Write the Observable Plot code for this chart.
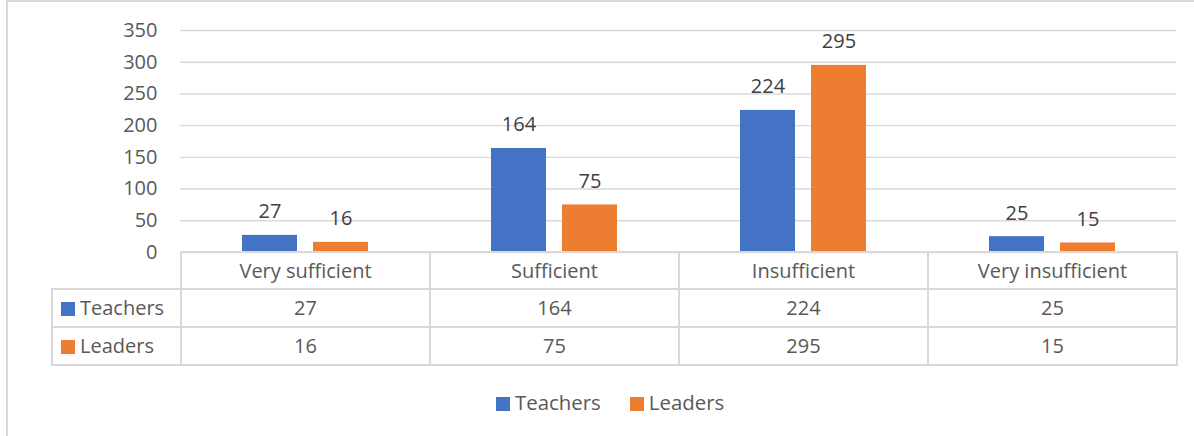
<!DOCTYPE html>
<html>
<head>
<meta charset="utf-8">
<script src="https://cdn.jsdelivr.net/npm/d3@7"></script>
<script src="https://cdn.jsdelivr.net/npm/@observablehq/plot@0.6"></script>
<style>
  html, body { margin: 0; padding: 0; background: #fff; }
  #wrap { position: relative; width: 1194px; height: 436px; overflow: hidden; font-family: "Open Sans", sans-serif; color: #595959; }
  #frame { position: absolute; left: 6px; top: 0px; width: 1300px; height: 600px; border: 2px solid #d9d9d9; box-sizing: border-box; }
  #chart { position: absolute; left: 0; top: 0; }
  #tbl { position: absolute; left: 51px; top: 251px; border-collapse: collapse; table-layout: fixed; font-size: 20px; color: #595959; }
  #tbl td { border: 2px solid #d9d9d9; text-align: center; padding: 0; white-space: nowrap; line-height: 1; }
  #tbl tr.h td { height: 35px; }
  #tbl tr.r td { height: 36px; }
  #tbl td.lab { text-align: left; padding-left: 8px; }
  #tbl td.corner { border-top: none; border-left: none; }
  .sw { display: inline-block; width: 14px; height: 14px; margin-right: 5px; vertical-align: -1px; }
  #legend { position: absolute; top: 389px; left: 496px; font-size: 20.4px; white-space: nowrap; line-height: 1.3; }
  #legend span.item { margin-right: 29px; }
</style>
</head>
<body>
<div id="wrap">
  <div id="frame"></div>
  <div id="chart"></div>
  <table id="tbl"></table>
  <div id="legend"></div>
</div>
<script>
const categories = ["Very sufficient", "Sufficient", "Insufficient", "Very insufficient"];
const series = ["Teachers", "Leaders"];
const teachers = [27, 164, 224, 25];
const leaders = [16, 75, 295, 15];
const yTicks = [0, 50, 100, 150, 200, 250, 300, 350];
const colors = ["#4472C4", "#ED7D31"];

const seriesValues = [teachers, leaders];
const rows = [];
categories.forEach((c, i) => {
  series.forEach((s, j) => rows.push({category: c, series: s, value: seriesValues[j][i]}));
});

const chart = Plot.plot({
  width: 1194,
  height: 254,
  marginLeft: 180,
  marginRight: 18,
  marginTop: 30,
  marginBottom: 2,
  fx: {domain: categories, padding: 0, axis: null, label: null},
  x: {domain: series, paddingInner: 0.2254, paddingOuter: 0.866, axis: null},
  y: {domain: [0, 350], ticks: yTicks, tickSize: 0, tickPadding: 23, label: null},
  color: {domain: series, range: colors},
  style: {fontFamily: "'Open Sans', sans-serif", fontSize: "20px", color: "#595959", background: "transparent", overflow: "visible"},
  marks: [
    Plot.ruleY(yTicks, {stroke: "#d9d9d9", strokeWidth: 1.4}),
    Plot.barY(rows, {fx: "category", x: "series", y: "value", fill: "series"}),
    Plot.text(rows, {fx: "category", x: "series", y: "value", text: d => String(d.value), lineAnchor: "bottom", dy: -17, fill: "#404040", fontSize: 20})
  ]
});
document.getElementById("chart").appendChild(chart);

// data table
const tbl = document.getElementById("tbl");
const cg = document.createElement("colgroup");
[129, 249, 249, 249, 249].forEach(w => { const col = document.createElement("col"); col.style.width = w + "px"; cg.appendChild(col); });
tbl.appendChild(cg);
const hr = document.createElement("tr"); hr.className = "h";
const corner = document.createElement("td"); corner.className = "corner"; hr.appendChild(corner);
categories.forEach(c => { const td = document.createElement("td"); td.textContent = c; hr.appendChild(td); });
tbl.appendChild(hr);
series.forEach((s, j) => {
  const tr = document.createElement("tr"); tr.className = "r";
  const lab = document.createElement("td"); lab.className = "lab";
  lab.innerHTML = `<span class="sw" style="background:${colors[j]}"></span>${s}`;
  tr.appendChild(lab);
  seriesValues[j].forEach(v => { const td = document.createElement("td"); td.textContent = v; tr.appendChild(td); });
  tbl.appendChild(tr);
});

// legend
const lg = document.getElementById("legend");
lg.innerHTML = series.map((s, j) => `<span class="item"><span class="sw" style="background:${colors[j]}"></span>${s}</span>`).join("");
</script>
</body>
</html>
